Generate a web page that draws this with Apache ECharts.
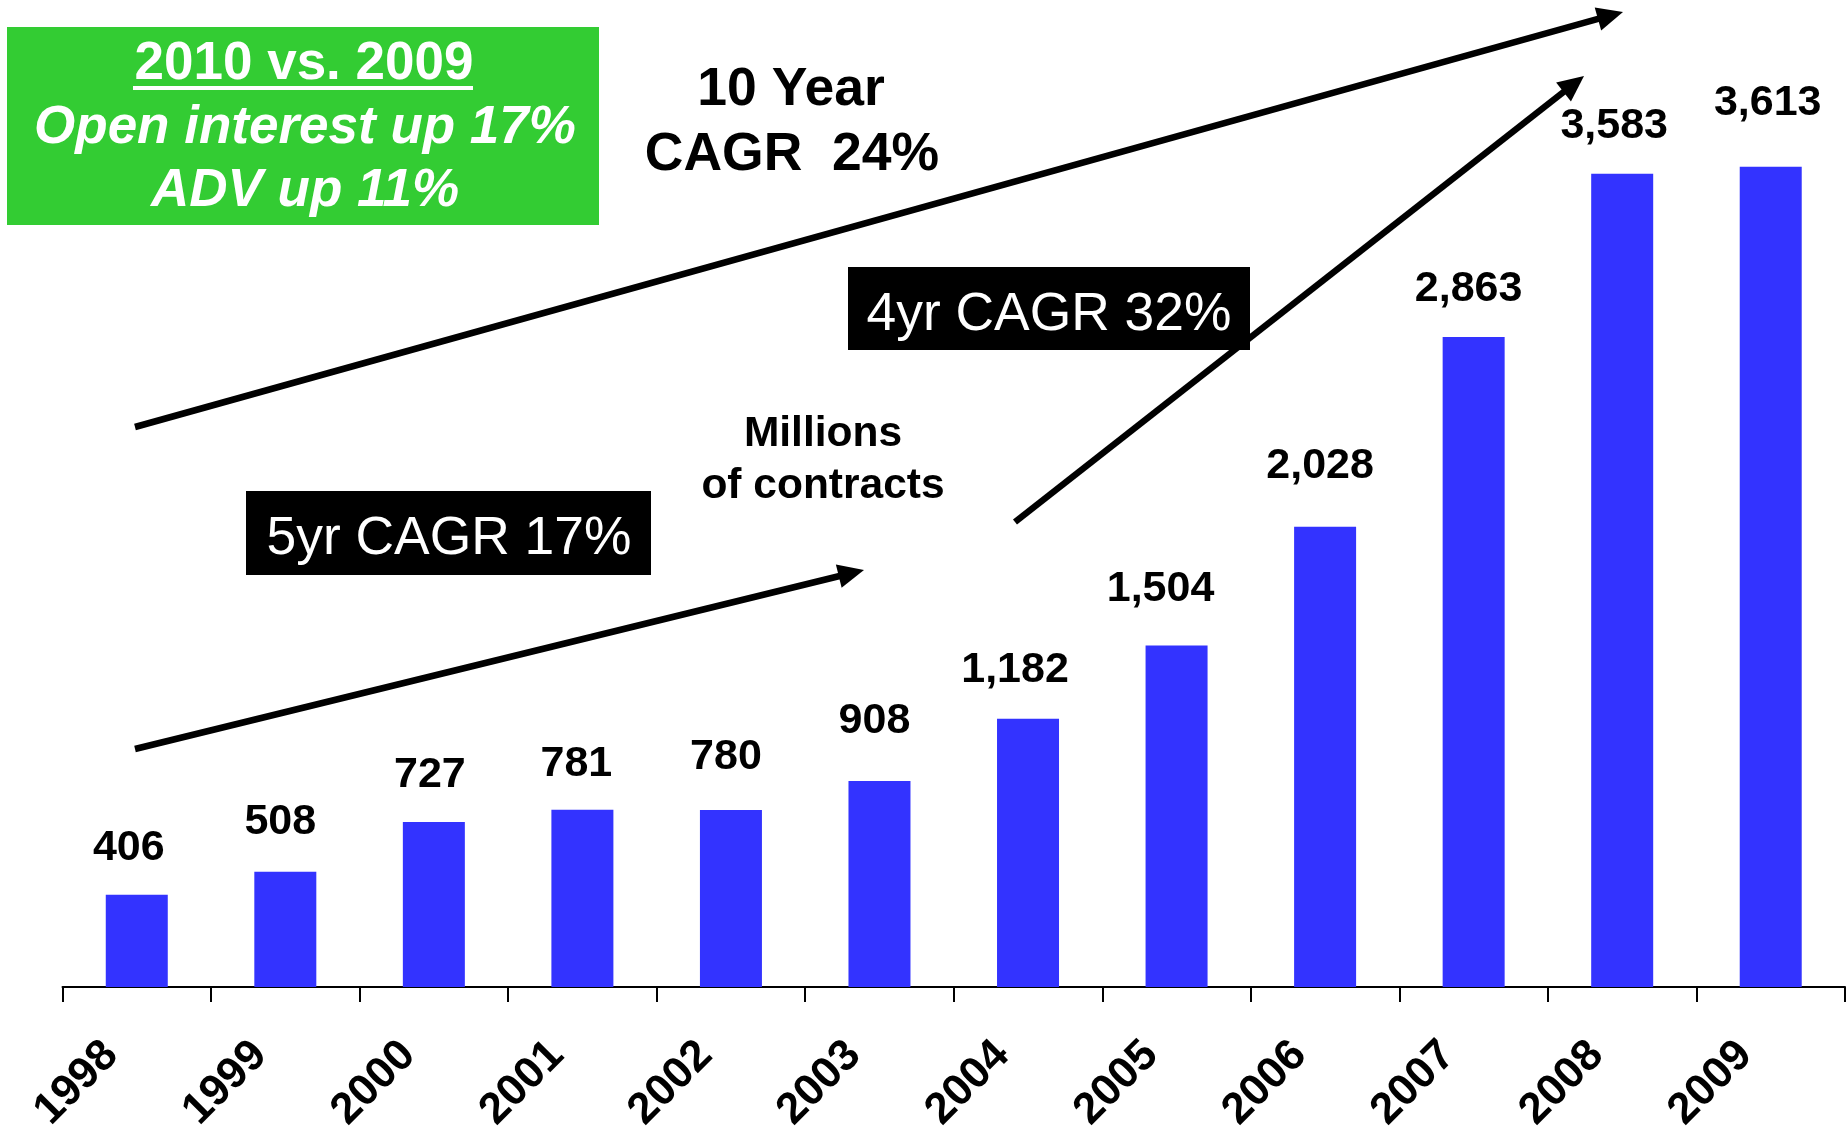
<!DOCTYPE html>
<html>
<head>
<meta charset="utf-8">
<title>Open interest</title>
<script src="https://cdn.jsdelivr.net/npm/echarts@6/dist/echarts.min.js"></script>
<style>
  html, body { margin: 0; padding: 0; background: #fff; }
  #main { width: 1846px; height: 1129px; }
</style>
</head>
<body>
<div id="main"></div>
<script>
var years = ['1998', '1999', '2000', '2001', '2002', '2003', '2004', '2005', '2006', '2007', '2008', '2009'];
var contracts = [406, 508, 727, 781, 780, 908, 1182, 1504, 2028, 2863, 3583, 3613];
// label placement above each bar, the original ones are not evenly placed
var labelGap = [25, 28, 25, 24, 31, 38, 27, 35, 39, 26, 26, 42];
var labelShift = [-8, -5, -4, -6, -5, -5, -13, -16, -5, -5, -8, -3];

var FONT = '"Liberation Sans", Arial, sans-serif';

function fmt(v) {
    return String(v).replace(/\B(?=(\d{3})+(?!\d))/g, ',');
}

// arrow made of a thick line plus a triangle head
function arrow(x1, y1, x2, y2) {
    var a = Math.atan2(y2 - y1, x2 - x1);
    var hl = 26, hw = 12;
    var bx = x2 - hl * Math.cos(a), by = y2 - hl * Math.sin(a);
    var px = -Math.sin(a) * hw, py = Math.cos(a) * hw;
    return [
        {
            type: 'line',
            shape: { x1: x1, y1: y1, x2: bx + 2 * Math.cos(a), y2: by + 2 * Math.sin(a) },
            style: { stroke: '#000', lineWidth: 6.5 },
            z: 10
        },
        {
            type: 'polygon',
            shape: { points: [[x2, y2], [bx + px, by + py], [bx - px, by - py]] },
            style: { fill: '#000' },
            z: 10
        }
    ];
}

function txt(s, cx, baseline, size, opts) {
    opts = opts || {};
    return {
        type: 'text',
        z: 20,
        style: {
            text: s,
            x: cx,
            y: baseline - size * 0.29,
            align: 'center',
            verticalAlign: 'middle',
            fill: opts.color || '#000',
            font: (opts.italic ? 'italic ' : '') + (opts.bold === false ? 'normal ' : 'bold ') + size + 'px ' + FONT
        }
    };
}

var dom = document.getElementById('main');
var myChart = echarts.init(dom, null, { renderer: 'canvas' });

var barData = contracts.map(function (v, i) {
    return { value: v, label: { distance: labelGap[i], offset: [labelShift[i], 0] } };
});

var graphics = [
    // green box
    { type: 'rect', shape: { x: 7, y: 27, width: 592, height: 198 }, style: { fill: '#33cc33' }, z: 5 },
    txt('2010 vs. 2009', 304, 80, 53, { color: '#fff' }),
    { type: 'rect', shape: { x: 133, y: 86, width: 340, height: 4 }, style: { fill: '#fff' }, z: 20 },
    txt('Open interest up 17%', 305, 144, 53, { color: '#fff', italic: true }),
    txt('ADV up 11%', 305, 207, 53, { color: '#fff', italic: true }),

    txt('10 Year', 791, 106, 53.5),
    txt('CAGR  24%', 792, 171, 53.5),

    txt('Millions', 823, 447, 42.5),
    txt('of contracts', 823, 499, 42.5),

    // black CAGR boxes
    { type: 'rect', shape: { x: 246, y: 491, width: 405, height: 84 }, style: { fill: '#000' }, z: 5 },
    txt('5yr CAGR 17%', 449, 555, 53.4, { color: '#fff', bold: false }),
    { type: 'rect', shape: { x: 848, y: 267, width: 402, height: 83 }, style: { fill: '#000' }, z: 5 },
    txt('4yr CAGR 32%', 1049, 331, 53.4, { color: '#fff', bold: false })
];
graphics = graphics
    .concat(arrow(135, 427, 1623, 12))
    .concat(arrow(1015, 522, 1584, 76))
    .concat(arrow(135, 749, 864, 570));

var option = {
    backgroundColor: '#fff',
    animation: false,
    grid: { left: 62.5, right: 1, top: 79, bottom: 142, containLabel: false, outerBoundsMode: 'none' },
    xAxis: {
        type: 'category',
        data: years,
        boundaryGap: true,
        axisLine: { lineStyle: { color: '#000', width: 2 } },
        axisTick: { show: true, length: 15, lineStyle: { color: '#000', width: 2 } },
        axisLabel: {
            rotate: 45,
            margin: 36,
            padding: [0, 36, 0, 0],
            color: '#000',
            fontSize: 44,
            fontWeight: 'bold',
            fontFamily: FONT,
            interval: 0
        }
    },
    yAxis: {
        type: 'value',
        min: 0,
        max: 4000,
        show: false,
        splitLine: { show: false }
    },
    series: [
        {
            type: 'bar',
            data: barData,
            barWidth: 62,
            itemStyle: { color: '#3333ff' },
            label: {
                show: true,
                position: 'top',
                color: '#000',
                fontSize: 43,
                fontWeight: 'bold',
                fontFamily: FONT,
                formatter: function (p) { return fmt(p.value); }
            }
        }
    ],
    graphic: graphics
};
myChart.setOption(option);
</script>
</body>
</html>
